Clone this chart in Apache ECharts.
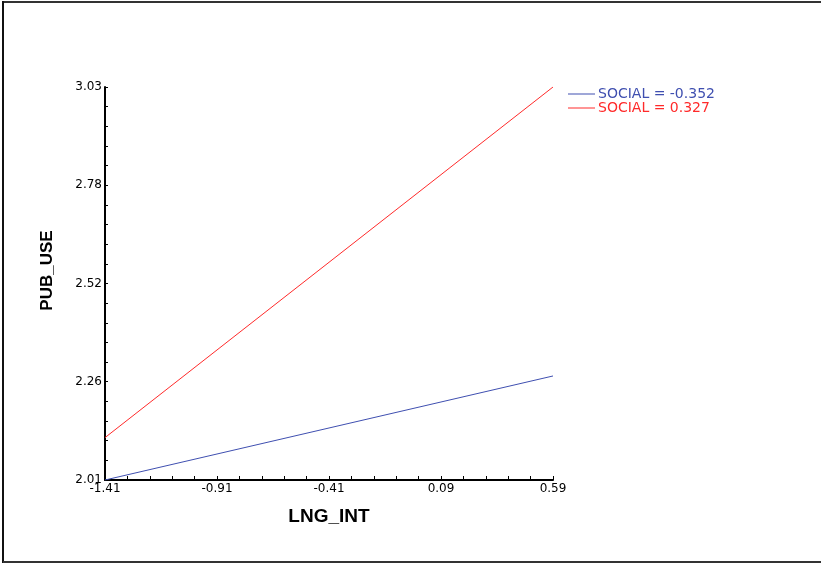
<!DOCTYPE html>
<html>
<head>
<meta charset="utf-8">
<script src="https://cdn.jsdelivr.net/npm/echarts@6/dist/echarts.min.js"></script>
<style>html,body{margin:0;padding:0;background:#fff;overflow:hidden}#c{width:821px;height:564px}</style>
</head>
<body>
<div id="c"></div>
<script>
var seriesNames = ['SOCIAL = -0.352', 'SOCIAL = 0.327'];
var xEnds = [-1.41, 0.59];
var blueValues = [2.01, 2.28];
var redValues = [2.12, 3.03];
var xTickValues = [-1.41, -0.91, -0.41, 0.09, 0.59];
var xTickLabels = ['-1.41', '-0.91', '-0.41', '0.09', '0.59'];
var yTickValues = [2.01, 2.265, 2.52, 2.775, 3.03];
var yTickLabels = ['2.01', '2.26', '2.52', '2.78', '3.03'];

var colors = ['#3f4fb0', '#ff2a2a'];
var font = 'DejaVu Sans, Liberation Sans, Arial, sans-serif';
var boldFont = 'Liberation Sans, Arial, sans-serif';

function minorTicks(vals, n) {
  var out = [];
  for (var i = 0; i < vals.length - 1; i++) {
    var a = vals[i], b = vals[i + 1];
    for (var k = 0; k < n; k++) out.push(+(a + (b - a) * k / n).toFixed(6));
  }
  out.push(vals[vals.length - 1]);
  return out;
}
function labelFor(vals, labels) {
  return function (v) {
    for (var i = 0; i < vals.length; i++) if (Math.abs(vals[i] - v) < 1e-6) return labels[i];
    return '';
  };
}

var chart = echarts.init(document.getElementById('c'), null, {renderer: 'canvas'});
chart.setOption({
  animation: false,
  backgroundColor: '#fff',
  textStyle: {fontFamily: font},
  grid: {left: 105, right: 268, top: 87, bottom: 84, containLabel: false},
  legend: {
    orient: 'vertical',
    left: 563,
    top: 82,
    itemGap: 0,
    itemWidth: 27,
    itemHeight: 12,
    icon: 'path://M0,5.5L27,5.5L27,6.5L0,6.5Z',
    textStyle: {fontSize: 14, lineHeight: 12, fontFamily: font, padding: [0, 0, 0, -2]},
    data: [
      {name: seriesNames[0], textStyle: {color: colors[0]}},
      {name: seriesNames[1], textStyle: {color: colors[1]}}
    ]
  },
  xAxis: {
    type: 'value',
    min: xEnds[0], max: xEnds[1],
    name: 'LNG_INT', nameLocation: 'middle', nameGap: 27,
    nameTextStyle: {fontSize: 19, fontWeight: 'bold', color: '#000', fontFamily: boldFont},
    axisLine: {show: true, onZero: false, lineStyle: {color: '#000', width: 2}},
    axisTick: {show: true, inside: true, length: 4, customValues: minorTicks(xTickValues, 5), lineStyle: {color: '#000', width: 1}},
    axisLabel: {show: true, customValues: xTickValues, formatter: labelFor(xTickValues, xTickLabels), fontSize: 12, color: '#000', margin: 3, fontFamily: font},
    splitLine: {show: false}
  },
  yAxis: {
    type: 'value',
    min: yTickValues[0], max: yTickValues[4],
    name: 'PUB_USE', nameLocation: 'middle', nameGap: 49, nameRotate: 90,
    nameTextStyle: {fontSize: 17, fontWeight: 'bold', color: '#000', fontFamily: boldFont, padding: [0, 0, 0, 26]},
    axisLine: {show: true, onZero: false, lineStyle: {color: '#000', width: 2}},
    axisTick: {show: true, inside: true, length: 3, customValues: minorTicks(yTickValues, 5), lineStyle: {color: '#000', width: 1}},
    axisLabel: {show: true, customValues: yTickValues, formatter: labelFor(yTickValues, yTickLabels), fontSize: 12, color: '#000', margin: 3, fontFamily: font},
    splitLine: {show: false}
  },
  series: [
    {name: seriesNames[0], type: 'line', symbol: 'none', lineStyle: {color: colors[0], width: 1}, itemStyle: {color: colors[0]},
     data: [[xEnds[0], blueValues[0]], [xEnds[1], blueValues[1]]]},
    {name: seriesNames[1], type: 'line', symbol: 'none', lineStyle: {color: colors[1], width: 1}, itemStyle: {color: colors[1]},
     data: [[xEnds[0], redValues[0]], [xEnds[1], redValues[1]]]}
  ],
  graphic: [
    {type: 'line', silent: true, shape: {x1: 3, y1: 2, x2: 821, y2: 2}, style: {stroke: '#333', lineWidth: 2}},
    {type: 'line', silent: true, shape: {x1: 3, y1: 1, x2: 3, y2: 563}, style: {stroke: '#111', lineWidth: 2}},
    {type: 'line', silent: true, shape: {x1: 3, y1: 562, x2: 821, y2: 562}, style: {stroke: '#333', lineWidth: 2}}
  ]
});
</script>
</body>
</html>
